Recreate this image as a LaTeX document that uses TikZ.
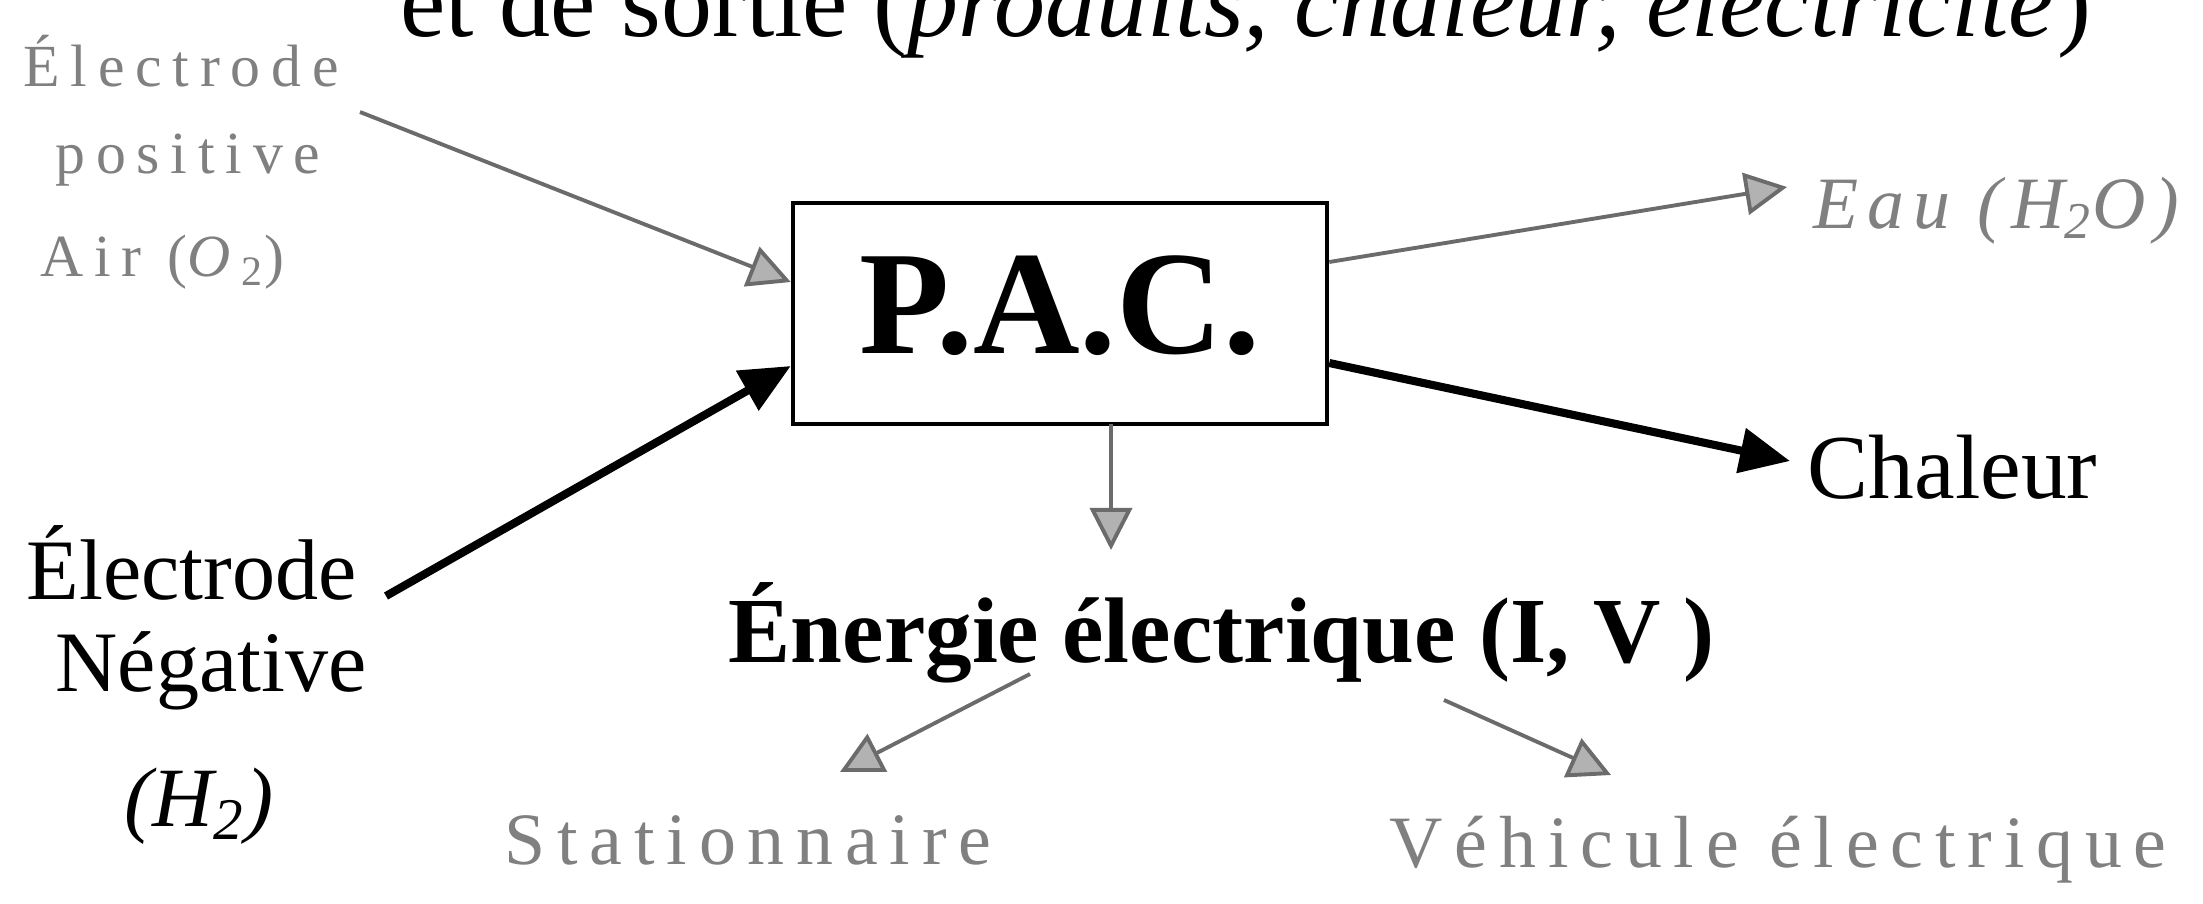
\documentclass[tikz,border=0pt]{standalone}
\usepackage{fontspec}
\setmainfont{Liberation Serif}
\newfontfamily\gsmall[LetterSpace=18]{Liberation Serif}
\newfontfamily\gmid[LetterSpace=16]{Liberation Serif}
\newfontfamily\geau[LetterSpace=12]{Liberation Serif}
\usetikzlibrary{arrows.meta}
\definecolor{txtgray}{gray}{0.5}
\definecolor{arrgray}{gray}{0.42}
\begin{document}
\begin{tikzpicture}[x=0.01cm,y=-0.01cm,
  lbl/.style={inner sep=0pt, anchor=base west},
  blackarrow/.style={line width=2.3pt, black, -{Triangle[length=0.5cm,width=0.44cm]}},
  grayarrow/.style={line width=1.1pt, arrgray, -{Triangle[length=0.42cm,width=0.42cm,fill=black!30]}},
  pacbox/.style={draw, line width=1.2pt, minimum width=5.34cm, minimum height=2.21cm,
    inner sep=0pt, text depth=0.17cm, font=\fontsize{42}{46}\selectfont\bfseries}
]
\useasboundingbox (0,0) rectangle (2203,903);

% title (cut at the top, as in the reference)
\node[lbl, font=\fontsize{29}{32}\selectfont] (title) at (400,37)
  {et de sortie (\textit{produits, chaleur, électricité})};

% central box
\node[pacbox] (pac) at (1060,313.5) {P.A.C.};

% left gray labels
\node[lbl, txtgray, font=\fontsize{17}{20}\gsmall] (elpos) at (23,86) {Électrode};
\node[lbl, txtgray, font=\fontsize{17}{20}\gsmall] (pos) at (55,173) {positive};
\node[lbl, txtgray, font=\fontsize{17}{20}\gsmall] (air) at (40,276) {Air (\textit{O}\textsubscript{2})};

% left black labels
\node[lbl, font=\fontsize{24.5}{28}\selectfont] (elneg) at (26,599) {Électrode};
\node[lbl, font=\fontsize{24.5}{28}\selectfont] (neg) at (55,691) {Négative};
\node[lbl, font=\fontsize{24}{28}\selectfont\itshape] (h2) at (124,826) {(H\textsubscript{2})};

% right labels
\node[lbl, txtgray, font=\fontsize{21}{24}\geau\itshape] (eau) at (1813,228) {Eau (H\textsubscript{2}O)};
\node[lbl, font=\fontsize{26}{30}\selectfont] (chal) at (1807,498) {Chaleur};

% energy and uses
\node[lbl, font=\fontsize{26.5}{30}\selectfont\bfseries] (energ) at (728,662) {Énergie électrique (I, V )};
\node[lbl, txtgray, font=\fontsize{21}{24}\gmid] (stat) at (504,864) {Stationnaire};
\node[lbl, txtgray, font=\fontsize{21}{24}\gmid] (vehic) at (1389,867) {Véhicule électrique};

% connector end points
\coordinate (sA) at (360,112);
\coordinate (tA) at (pac.west |- 0,282);
\coordinate (sB) at (386,596);
\coordinate (tB) at (pac.west |- 0,366);
\coordinate (sC) at (pac.east |- 0,262);
\coordinate (tC) at (1787,187);
\coordinate (sD) at (pac.east |- 0,363);
\coordinate (tD) at (1790,461);
\coordinate (sE) at (1111,424);
\coordinate (tE) at (1111,550);
\coordinate (sF) at (1030,674);
\coordinate (tF) at (840,772);
\coordinate (sG) at (1444,700);
\coordinate (tG) at (1611,775);

\draw[grayarrow] (sA) -- (tA);
\draw[blackarrow] (sB) -- (tB);
\draw[grayarrow] (sC) -- (tC);
\draw[blackarrow] (sD) -- (tD);
\draw[grayarrow] (sE) -- (tE);
\draw[grayarrow] (sF) -- (tF);
\draw[grayarrow] (sG) -- (tG);
\end{tikzpicture}
\end{document}
